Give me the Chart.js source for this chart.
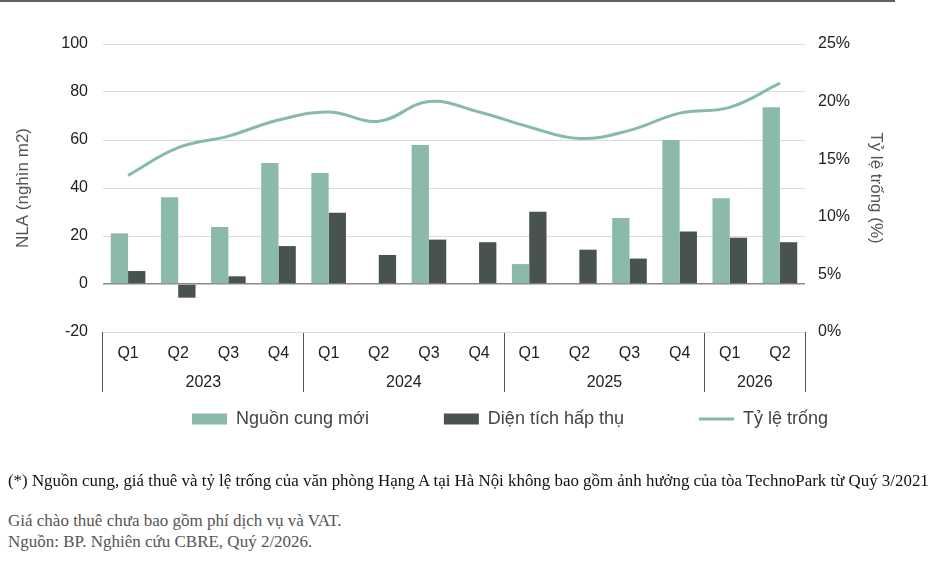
<!DOCTYPE html>
<html>
<head>
<meta charset="utf-8">
<script src="https://cdn.jsdelivr.net/npm/chart.js@4.4.1/dist/chart.umd.min.js"></script>
<style>
  html, body { margin: 0; padding: 0; background: #ffffff; }
  body { width: 940px; height: 570px; position: relative; overflow: hidden; }
  #wrap { position: absolute; left: 0; top: 0; width: 940px; height: 503px; }
  #topline { position: absolute; left: 0; top: 0; width: 895px; height: 2px; background: #5a6262; }
  .note { position: absolute; left: 8px; font-family: "Liberation Serif", "Times New Roman", serif; white-space: nowrap; }
</style>
</head>
<body>
<div id="wrap"><canvas id="c" width="940" height="503"></canvas></div>
<div id="topline"></div>
<div class="note" style="top:471px;font-size:16.9px;color:#111;">(*) Nguồn cung, giá thuê và tỷ lệ trống của văn phòng Hạng A tại Hà Nội không bao gồm ảnh hưởng của tòa TechnoPark từ Quý 3/2021</div>
<div class="note" style="top:511px;font-size:17px;color:#555;">Giá chào thuê chưa bao gồm phí dịch vụ và VAT.</div>
<div class="note" style="top:532px;font-size:17px;color:#555;">Nguồn: BP. Nghiên cứu CBRE, Quý 2/2026.</div>
<script>
// ---- data ----
const quarters = ['Q1','Q2','Q3','Q4','Q1','Q2','Q3','Q4','Q1','Q2','Q3','Q4','Q1','Q2'];
const years = ['2023','2024','2025','2026'];
const yearCenters = [1.5, 5.5, 9.5, 12.5];
const yearBoundaries = [0, 4, 8, 12, 14];
const supply = [21.1, 36.1, 23.8, 50.4, 46.3, 0, 57.9, 0, 8.3, 0, 27.5, 60.0, 35.7, 73.6];
const absorption = [5.4, -5.7, 3.2, 15.8, 29.7, 12.1, 18.5, 17.4, 30.1, 14.3, 10.6, 21.9, 19.3, 17.4];
const vacancy = [13.6, 16.0, 17.0, 18.4, 19.1, 18.3, 20.0, 19.1, 17.8, 16.8, 17.5, 19.0, 19.5, 21.6];
const seriesNames = ['Nguồn cung mới', 'Diện tích hấp thụ', 'Tỷ lệ trống'];
const leftTicks = [-20, 0, 20, 40, 60, 80, 100];
const rightTicks = [0, 5, 10, 15, 20, 25];

const C_SUPPLY = '#8cbaa9';
const C_ABSORB = '#48524f';
const C_LINE = '#86bca7';
const FONT = '"Liberation Sans", Arial, sans-serif';
const LEGEND_SHIFT_X = 40;
const LEGEND_SHIFT_Y = 63;

Chart.defaults.font.family = FONT;

const legendShift = {
  id: 'legendShift',
  afterLayout(chart) {
    const l = chart.legend;
    if (l) {
      l.left += LEGEND_SHIFT_X; l.right += LEGEND_SHIFT_X;
      l.top -= LEGEND_SHIFT_Y; l.bottom -= LEGEND_SHIFT_Y;
    }
  }
};

new Chart(document.getElementById('c'), {
  type: 'bar',
  data: {
    labels: quarters,
    datasets: [
      { type: 'bar', label: seriesNames[0], data: supply, backgroundColor: C_SUPPLY, borderWidth: 0,
        xAxisID: 'x', yAxisID: 'y', categoryPercentage: 0.69, barPercentage: 1.0 },
      { type: 'bar', label: seriesNames[1], data: absorption, backgroundColor: C_ABSORB, borderWidth: 0,
        xAxisID: 'x', yAxisID: 'y', categoryPercentage: 0.69, barPercentage: 1.0 },
      { type: 'line', label: seriesNames[2], data: vacancy, borderColor: C_LINE, backgroundColor: C_LINE,
        borderWidth: 3, pointRadius: 0, tension: 0.4, fill: false, xAxisID: 'x', yAxisID: 'y1' }
    ]
  },
  options: {
    responsive: false,
    animation: false,
    devicePixelRatio: 1,
    layout: { padding: { top: 44, left: 0, right: 0, bottom: 2 } },
    plugins: {
      tooltip: { enabled: false },
      legend: {
        position: 'bottom',
        align: 'center',
        labels: {
          usePointStyle: true,
          pointStyleWidth: 35,
          boxHeight: 11,
          padding: 75,
          color: '#444',
          font: { size: 18, family: FONT },
          generateLabels: (chart) => Chart.defaults.plugins.legend.labels.generateLabels(chart).map((it, i) => {
            it.pointStyle = i === 2 ? 'line' : 'rect';
            it.lineWidth = i === 2 ? 3 : 0;
            return it;
          })
        }
      }
    },
    scales: {
      x: {
        type: 'category',
        position: 'bottom',
        weight: 0,
        offset: true,
        grid: {
          offset: true,
          drawOnChartArea: false,
          drawTicks: true,
          tickLength: 60,
          lineWidth: 1,
          color: (ctx) => (ctx.type !== 'tick' || yearBoundaries.includes(ctx.index)) ? '#555' : 'rgba(0,0,0,0)'
        },
        border: { display: false },
        ticks: { padding: -48, color: '#222', font: { size: 16 }, maxRotation: 0, autoSkip: false },
        afterFit: (s) => { s.height = 36; }
      },
      x2: {
        type: 'linear',
        position: 'bottom',
        weight: 1,
        min: -0.5,
        max: 13.5,
        offset: false,
        afterBuildTicks: (s) => { s.ticks = yearCenters.map(v => ({ value: v })); },
        grid: { display: false, drawTicks: false },
        border: { display: false },
        ticks: { callback: (v, i) => years[i], padding: 5, color: '#222', font: { size: 16 }, maxRotation: 0, autoSkip: false },
        afterFit: (s) => { s.height = 30; }
      },
      y: {
        position: 'left',
        min: -20,
        max: 100,
        afterBuildTicks: (s) => { s.ticks = leftTicks.map(v => ({ value: v })); },
        grid: {
          drawTicks: false,
          color: (ctx) => ctx.tick && ctx.tick.value === 0 ? '#8a8a8a' : '#dcdcdc',
          lineWidth: (ctx) => ctx.tick && ctx.tick.value === 0 ? 1.5 : 1
        },
        border: { display: false },
        ticks: { padding: 15, color: '#222', font: { size: 16 } },
        title: { display: true, text: 'NLA (nghìn m2)', color: '#555', font: { size: 17 }, padding: { top: 13, bottom: 0 } },
        afterFit: (s) => { s.width = 103; }
      },
      y1: {
        position: 'right',
        min: 0,
        max: 25,
        afterBuildTicks: (s) => { s.ticks = rightTicks.map(v => ({ value: v })); },
        grid: { drawOnChartArea: false, drawTicks: false },
        border: { display: false },
        ticks: { padding: 13, color: '#222', font: { size: 16 }, callback: (v) => v + '%' },
        title: { display: true, text: 'Tỷ lệ trống (%)', color: '#555', font: { size: 17 }, padding: { top: 54, bottom: 0 } },
        afterFit: (s) => { s.width = 135; }
      }
    }
  },
  plugins: [legendShift]
});
</script>
</body>
</html>
